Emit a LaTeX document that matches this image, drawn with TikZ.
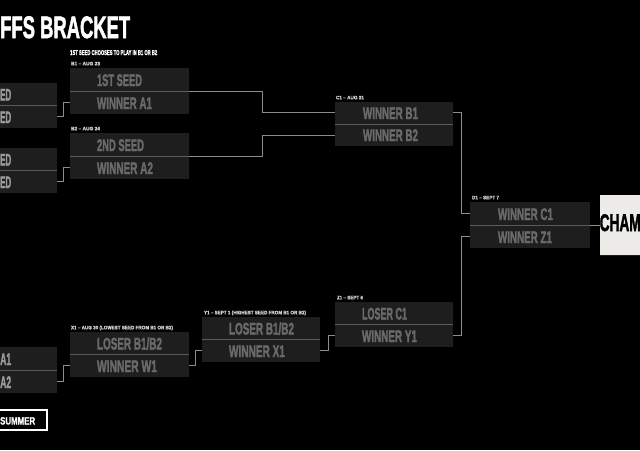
\documentclass[tikz,border=0pt]{standalone}
\usepackage{fontspec}
\setmainfont{Liberation Sans}
\newfontfamily\heavy{Liberation Sans}[BoldFeatures={FakeBold=2.2}]
\newfontfamily\semiheavy{Liberation Sans}[BoldFeatures={FakeBold=1.2}]
\usetikzlibrary{calc,shapes.misc}
\definecolor{boxfill}{HTML}{1E1E1E}
\definecolor{boxtext}{HTML}{6A6A6A}
\definecolor{lefttext}{HTML}{9A9A9A}
\definecolor{divcol}{HTML}{5A5A5A}
\definecolor{linecol}{HTML}{8C8C8C}
\definecolor{lbl}{HTML}{D0D0D0}
\definecolor{champ}{HTML}{ECEBE7}
\newcommand{\fw}[2]{\resizebox{#1pt}{\height}{#2}}
\begin{document}
\begin{tikzpicture}[x=1pt,y=-1pt,
  box/.style={rectangle, draw=none, fill=boxfill, inner sep=0, minimum width=#1, minimum height=46pt},
  divider/.style={draw=divcol, line width=0.9pt},
  conn/.style={draw=linecol, line width=0.9pt},
  btxt/.style={anchor=base west, inner sep=0, text=boxtext, font=\fontsize{16.8}{18}\selectfont\heavy\bfseries},
  ltxt/.style={anchor=base west, inner sep=0, text=lefttext, font=\fontsize{16.8}{18}\selectfont\heavy\bfseries},
  lab/.style={anchor=base west, inner sep=0, text=lbl, font=\fontsize{5}{6}\selectfont\semiheavy\bfseries}]
\fill[black] (0,0) rectangle (640,450);
\useasboundingbox (0,0) rectangle (640,450);

% title
\node[anchor=base west, inner sep=0, text=white, font=\fontsize{31}{33}\selectfont\heavy\bfseries] (title) at (0,38) {\fw{130}{FFS BRACKET}};
\node[anchor=base west, inner sep=0, text=white, font=\fontsize{7}{8}\selectfont\semiheavy\bfseries] (sub) at (70,55) {\fw{87}{1ST SEED CHOOSES TO PLAY IN B1 OR B2}};

% boxes
\node[box=62pt, minimum height=45pt] (A1) at (26,105.5) {};
\node[box=62pt, minimum height=45pt] (A2) at (26,170.5) {};
\node[box=62pt] (W1) at (26,370) {};
\node[box=119pt] (B1) at (129.5,91) {};
\node[box=119pt] (B2) at (129.5,156) {};
\node[box=118pt, minimum height=44pt] (C1) at (394,124) {};
\node[box=120pt] (D1) at (530,225) {};
\node[box=119pt, minimum height=45pt] (X1) at (129.5,354.5) {};
\node[box=118pt, minimum height=45pt] (Y1) at (261,339.5) {};
\node[box=118pt, minimum height=45pt] (Z1) at (394,324.5) {};

% dividers
\foreach \b in {A1,A2,W1,B1,B2,C1,D1,X1,Y1,Z1}
  \draw[divider] (\b.west) -- (\b.east);

% labels above boxes
\node[lab] (lB1) at ($(B1.north west)+(1,-2.5)$) {\fw{29}{B1 – AUG 23}};
\node[lab] (lB2) at ($(B2.north west)+(1,-2.5)$) {\fw{29}{B2 – AUG 24}};
\node[lab] (lC1) at ($(C1.north west)+(1,-2.5)$) {\fw{28}{C1 – AUG 31}};
\node[lab] (lD1) at ($(D1.north west)+(2,-2.5)$) {\fw{27}{D1 – SEPT 7}};
\node[lab] (lX1) at ($(X1.north west)+(1,-2.5)$) {\fw{102}{X1 – AUG 30 (LOWEST SEED FROM B1 OR B2)}};
\node[lab] (lY1) at ($(Y1.north west)+(2,-2.5)$) {\fw{102}{Y1 – SEPT 1 (HIGHEST SEED FROM B1 OR B2)}};
\node[lab] (lZ1) at ($(Z1.north west)+(2,-2.5)$) {\fw{26}{Z1 – SEPT 6}};

% texts in boxes
\node[ltxt] (tA1a) at (0,100.5) {\fw{11}{ED}};
\node[ltxt] (tA1b) at (0,123) {\fw{11}{ED}};
\node[ltxt] (tA2a) at (0,165.5) {\fw{11}{ED}};
\node[ltxt] (tA2b) at (0,188) {\fw{11}{ED}};
\node[ltxt] (tW1a) at (0,365) {\fw{11}{A1}};
\node[ltxt] (tW1b) at (0,388) {\fw{11}{A2}};

\node[btxt] (tB1a) at ($(B1.west)+(27,-5)$) {\fw{45}{1ST SEED}};
\node[btxt] (tB1b) at ($(B1.west)+(27,18)$) {\fw{55}{WINNER A1}};
\node[btxt] (tB2a) at ($(B2.west)+(27,-5)$) {\fw{47}{2ND SEED}};
\node[btxt] (tB2b) at ($(B2.west)+(27,18)$) {\fw{56}{WINNER A2}};
\node[btxt] (tC1a) at ($(C1.west)+(28,-5)$) {\fw{55}{WINNER B1}};
\node[btxt] (tC1b) at ($(C1.west)+(28,17)$) {\fw{55}{WINNER B2}};
\node[btxt] (tD1a) at ($(D1.west)+(28,-5)$) {\fw{55}{WINNER C1}};
\node[btxt] (tD1b) at ($(D1.west)+(28,18)$) {\fw{54}{WINNER Z1}};
\node[btxt] (tX1a) at ($(X1.west)+(27,-5)$) {\fw{65}{LOSER B1/B2}};
\node[btxt] (tX1b) at ($(X1.west)+(27,17.5)$) {\fw{60}{WINNER W1}};
\node[btxt] (tY1a) at ($(Y1.west)+(27,-5)$) {\fw{65}{LOSER B1/B2}};
\node[btxt] (tY1b) at ($(Y1.west)+(27,17.5)$) {\fw{56}{WINNER X1}};
\node[btxt] (tZ1a) at ($(Z1.west)+(27,-5)$) {\fw{45}{LOSER C1}};
\node[btxt] (tZ1b) at ($(Z1.west)+(27,17.5)$) {\fw{55}{WINNER Y1}};

% champion box
\node[chamfered rectangle, chamfered rectangle corners=north west,
      chamfered rectangle xsep=4pt, chamfered rectangle ysep=4pt,
      fill=champ, draw=none, inner sep=0, minimum width=50pt, minimum height=60pt] (CH) at (625,225) {};
\node[anchor=base west, inner sep=0, text=black, font=\fontsize{24}{26}\selectfont\heavy\bfseries] (tCH) at (599.5,231) {\fw{41}{CHAM}};

% summer tag
\node[chamfered rectangle, chamfered rectangle corners=south east,
      chamfered rectangle xsep=4pt, chamfered rectangle ysep=4pt,
      draw=white, line width=1.4pt, inner sep=0, minimum width=52pt, minimum height=20pt] (SUM) at (21,420) {};
\node[anchor=base west, inner sep=0, text=white, font=\fontsize{10.5}{12}\selectfont\semiheavy\bfseries] (tSUM) at (0,424.5) {\fw{35}{SUMMER}};

% connectors
\draw[conn] ($(A1.east)!0.5!(A1.south east)$) -- ++(6,0) |- ($(B1.west)!0.5!(B1.south west)$);
\draw[conn] ($(A2.east)!0.5!(A2.south east)$) -- ++(6,0) |- ($(B2.west)!0.5!(B2.south west)$);
\draw[conn] ($(W1.east)!0.5!(W1.south east)$) -- ++(6,0) |- ($(X1.west)!0.5!(X1.south west)$);
\draw[conn] (B1.east) -- ++(73,0) |- ($(C1.west)!0.5!(C1.north west)$);
\draw[conn] (B2.east) -- ++(73,0) |- ($(C1.west)!0.5!(C1.south west)$);
\draw[conn] ($(C1.east)!0.5!(C1.north east)$) -- ++(8,0) |- ($(D1.west)!0.5!(D1.north west)$);
\draw[conn] ($(Z1.east)!0.5!(Z1.south east)$) -- ++(8,0) |- ($(D1.west)!0.5!(D1.south west)$);
\draw[conn] ($(X1.east)!0.5!(X1.south east)$) -- ++(6,0) |- ($(Y1.west)!0.5!(Y1.south west)$);
\draw[conn] ($(Y1.east)!0.5!(Y1.south east)$) -- ++(8,0) |- ($(Z1.west)!0.5!(Z1.south west)$);
\draw[conn] (D1.east) -- (CH.west);
\end{tikzpicture}
\end{document}
